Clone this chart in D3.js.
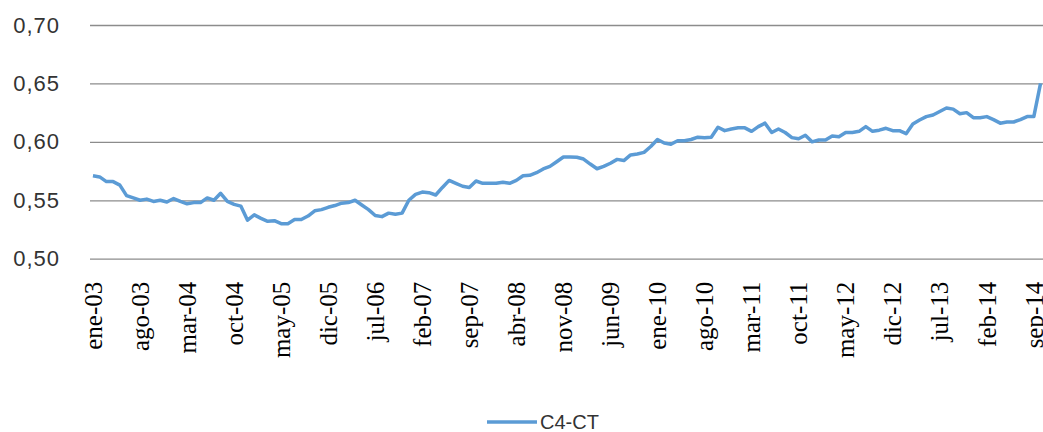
<html>
<head>
<meta charset="utf-8">
<style>
  body { margin: 0; background: #fff; }
  svg { display: block; }
</style>
</head>
<body>
<script src="https://d3js.org/d3.v7.min.js"></script>
<script>
// month names and years used for the category labels
var monthNames = ["ene","feb","mar","abr","may","jun","jul","ago","sep","oct","nov","dic"];
var years = ["03","04","05","06","07","08","09","10","11","12","13","14"];

// C4-CT values, monthly from ene-03 to oct-14
var c4ct = [
  0.571, 0.570, 0.566, 0.566, 0.563, 0.554, 0.552, 0.550, 0.551, 0.549,
  0.550, 0.5485, 0.5515, 0.549, 0.547, 0.548, 0.548, 0.552, 0.550, 0.556,
  0.549, 0.5465, 0.545, 0.533, 0.5375, 0.5345, 0.532, 0.5325, 0.530, 0.530,
  0.5335, 0.5335, 0.5365, 0.541, 0.542, 0.544, 0.5455, 0.5475, 0.548, 0.550,
  0.546, 0.542, 0.537, 0.536, 0.539, 0.538, 0.539, 0.550, 0.555, 0.557,
  0.5565, 0.5545, 0.561, 0.567, 0.5645, 0.562, 0.561, 0.5665, 0.5645, 0.5645,
  0.5645, 0.5655, 0.5645, 0.567, 0.571, 0.5714, 0.5736, 0.5768, 0.579, 0.583,
  0.587, 0.587, 0.5868, 0.5853, 0.581, 0.577, 0.579, 0.5817, 0.585, 0.584,
  0.5888, 0.5896, 0.591, 0.596, 0.602, 0.599, 0.598, 0.601, 0.601, 0.602,
  0.604, 0.6036, 0.604, 0.6125, 0.6096, 0.611, 0.612, 0.612, 0.609, 0.613,
  0.616, 0.608, 0.611, 0.608, 0.6036, 0.6027, 0.6056, 0.600, 0.6016, 0.6016,
  0.605, 0.6044, 0.608, 0.608, 0.609, 0.613, 0.609, 0.610, 0.6116, 0.6096,
  0.6096, 0.607, 0.6153, 0.6187, 0.6216, 0.623, 0.626, 0.629, 0.628, 0.624,
  0.625, 0.6207, 0.6207, 0.6216, 0.619, 0.616, 0.617, 0.617, 0.619, 0.6216,
  0.6216, 0.650
];

// y axis ticks
var yTicks = [0.50, 0.55, 0.60, 0.65, 0.70];
var seriesName = "C4-CT";

// build category list ene-03 ... (one per value)
var months = [];
years.forEach(function(y) {
  monthNames.forEach(function(m) { months.push(m + "-" + y); });
});
months = months.slice(0, c4ct.length);
var data = months.map(function(m, i) { return { month: m, value: c4ct[i] }; });

var W = 1043, H = 432;
var svg = d3.select("body").append("svg")
  .attr("width", W)
  .attr("height", H);

var x = d3.scaleBand()
  .domain(months)
  .range([89.6, 1043.9])
  .padding(0);

var y = d3.scaleLinear()
  .domain([0.50, 0.70])
  .range([258.7, 25]);

var comma = d3.formatLocale({ decimal: ",", thousands: ".", grouping: [3], currency: ["", ""] });

// gridlines + y labels
var yAxis = svg.append("g")
  .attr("transform", "translate(90,0)")
  .call(d3.axisLeft(y)
    .tickValues(yTicks)
    .tickFormat(comma.format(".2f"))
    .tickSize(-(W - 90))
    .tickPadding(30));
yAxis.select(".domain").remove();
yAxis.selectAll(".tick line")
  .attr("stroke", "#8c8c8c")
  .attr("stroke-width", 1.3);
yAxis.selectAll(".tick text")
  .attr("font-family", "Liberation Sans, Arial, sans-serif")
  .attr("font-size", 22)
  .attr("letter-spacing", 1)
  .attr("fill", "#333");

// x labels every 7 months, rotated
var xAxis = svg.append("g")
  .attr("transform", "translate(0," + y(0.50) + ")")
  .call(d3.axisBottom(x)
    .tickValues(months.filter(function(d, i) { return i % 7 == 0; }))
    .tickSize(0));
xAxis.select(".domain").remove();
xAxis.selectAll(".tick text")
  .attr("font-family", "Liberation Serif, Times New Roman, serif")
  .attr("font-size", 25)
  .attr("fill", "#000")
  .attr("transform", "rotate(-90)")
  .attr("x", -23)
  .attr("y", 0)
  .attr("dy", "0.35em")
  .style("text-anchor", "end");

// the series line
var line = d3.line()
  .x(function(d) { return x(d.month) + x.bandwidth() / 2; })
  .y(function(d) { return y(d.value); });

svg.append("path")
  .datum(data)
  .attr("d", line)
  .attr("fill", "none")
  .attr("stroke", "#5b9bd5")
  .attr("stroke-width", 3.5)
  .attr("stroke-linejoin", "round");

// legend
var legend = svg.append("g").attr("transform", "translate(487,422)");
legend.append("line")
  .attr("x1", 0).attr("x2", 50)
  .attr("y1", 0).attr("y2", 0)
  .attr("stroke", "#5b9bd5")
  .attr("stroke-width", 3.5);
legend.append("text")
  .attr("x", 53)
  .attr("y", 0)
  .attr("dy", "0.35em")
  .attr("font-family", "Liberation Sans, Arial, sans-serif")
  .attr("font-size", 20)
  .attr("fill", "#333")
  .text(seriesName);
</script>
</body>
</html>
